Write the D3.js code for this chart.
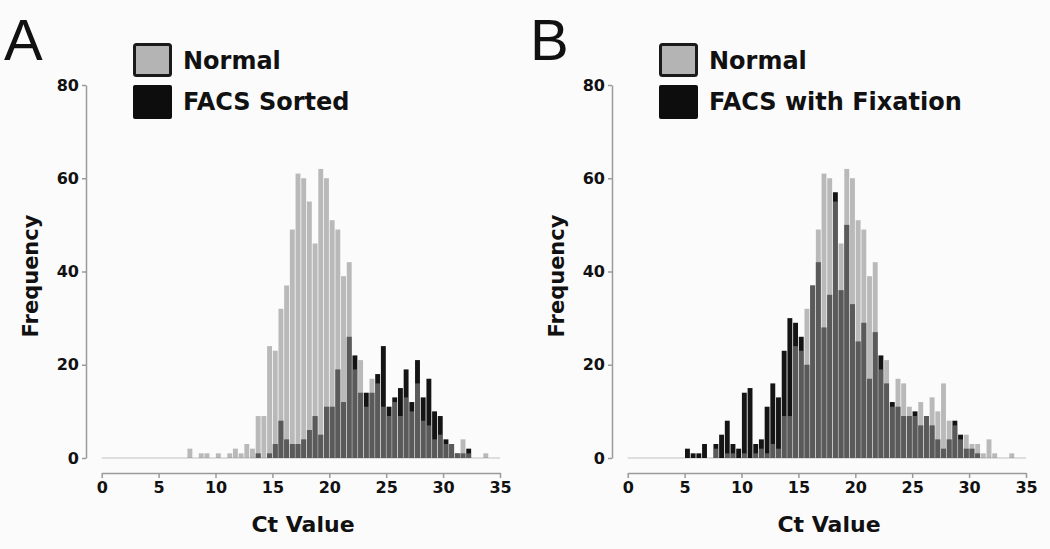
<!DOCTYPE html>
<html>
  <head>
    <meta charset="utf-8">
    <title>Ct histograms</title>
    <style media="screen">
    body{margin: 0; background: #fbfbfb}
    svg text {font-family: "DejaVu Sans", "Liberation Sans", Arial, sans-serif; font-weight: bold; fill: #111}
    </style>
  </head>
  <body>
    <script src="https://d3js.org/d3.v7.min.js"></script>
    <script type="text/javascript">
      // bins of 0.5 Ct, first bin starts at Ct 5.0
      var binStart = 5, binWidth = 0.5

      var normal = [
        0, 0, 0, 0, 0, 2, 0, 1, 1, 0,
        1, 0, 1, 2, 1, 3, 2, 9, 9, 24,
        23, 32, 37, 49, 61, 60, 55, 46, 62, 60,
        51, 49, 39, 42, 19, 21, 11, 17, 16, 11,
        9, 12, 9, 13, 10, 16, 8, 7, 4, 5,
        3, 3, 1, 4, 1, 0, 0, 1, 0, 0
      ]

      var facsSorted = [
        0, 0, 0, 0, 0, 0, 0, 0, 0, 0,
        0, 0, 0, 0, 0, 0, 0, 1, 0, 1,
        3, 8, 4, 3, 3, 4, 6, 9, 5, 11,
        11, 19, 12, 26, 22, 14, 14, 14, 18, 24,
        11, 13, 15, 19, 12, 21, 13, 17, 10, 9,
        4, 3, 1, 1, 2, 0, 0, 0, 0, 0
      ]

      var facsFixation = [
        2, 1, 1, 3, 0, 3, 5, 8, 3, 2,
        14, 15, 3, 4, 11, 16, 13, 23, 30, 29,
        26, 20, 37, 42, 28, 35, 57, 36, 50, 33,
        25, 29, 17, 27, 22, 16, 12, 11, 9, 9,
        10, 7, 9, 7, 4, 2, 4, 8, 5, 2,
        2, 1, 0, 0, 0, 0, 0, 0, 0, 0
      ]

      var xTicks = [0, 5, 10, 15, 20, 25, 30, 35]
      var yTicks = [0, 20, 40, 60, 80]

      var panels = [
        {letter: 'A', facs: facsSorted, legend: ['Normal', 'FACS Sorted'], dx: 0},
        {letter: 'B', facs: facsFixation, legend: ['Normal', 'FACS with Fixation'], dx: 526}
      ]

      var svg = d3.select('body').append('svg')
        .attr('width', 1050)
        .attr('height', 549)

      panels.forEach(function(p){
        var g = svg.append('g').attr('transform', 'translate(' + p.dx + ',0)')

        var x = d3.scaleLinear().domain([0, 35]).range([101.7, 500])
        var y = d3.scaleLinear().domain([0, 80]).range([458, 85])
        var bw = x(binWidth) - x(0) - 0.8

        // faint zero line under the bars
        g.append('line')
          .attr('x1', x(0)).attr('x2', x(35))
          .attr('y1', y(0)).attr('y2', y(0))
          .attr('stroke', '#d4d4d4').attr('stroke-width', 1.5)

        function bars(vals, cls){
          return g.selectAll('rect.' + cls)
            .data(vals.map(function(v, i){ return {ct: binStart + i * binWidth, v: v} })
              .filter(function(d){ return d.v > 0 }))
            .enter().append('rect')
            .attr('class', cls)
            .attr('x', function(d){ return x(d.ct) + 0.4 })
            .attr('width', bw)
            .attr('y', function(d){ return y(d.v) })
            .attr('height', function(d){ return y(0) - y(d.v) })
        }

        bars(p.facs, 'facs').attr('fill', '#141414')
        bars(normal, 'normal').attr('fill', '#8c8c8c').attr('fill-opacity', 0.59)

        // axes
        var yAxis = g.append('g')
          .attr('transform', 'translate(86,0)')
          .call(d3.axisLeft(y).tickValues(yTicks).tickSize(4).tickSizeOuter(0).tickPadding(3))
        var xAxis = g.append('g')
          .attr('transform', 'translate(0,473)')
          .call(d3.axisBottom(x).tickValues(xTicks).tickSize(5).tickSizeOuter(0).tickPadding(4))

        ;[yAxis, xAxis].forEach(function(a){
          a.select('.domain').attr('stroke', '#9a9a9a').attr('stroke-width', 1.5)
          a.selectAll('.tick line').attr('stroke', '#9a9a9a').attr('stroke-width', 1.5)
          a.selectAll('.tick text')
            .style('font-size', '16px')
            .attr('fill', '#111')
        })

        g.append('text')
          .attr('x', 303).attr('y', 532)
          .attr('text-anchor', 'middle')
          .style('font-size', '22px')
          .text('Ct Value')

        g.append('text')
          .attr('transform', 'translate(38,276) rotate(-90)')
          .attr('text-anchor', 'middle')
          .style('font-size', '21px')
          .text('Frequency')

        g.append('text')
          .attr('x', 4).attr('y', 60)
          .style('font-family', '"Liberation Sans", Arial, sans-serif')
          .style('font-size', '58px').style('font-weight', 'normal')
          .text(p.letter)

        // legend
        var lg = g.append('g')
        lg.append('rect')
          .attr('x', 134.5).attr('y', 44.5).attr('width', 36).attr('height', 31).attr('rx', 2)
          .attr('fill', '#b4b4b4').attr('stroke', '#1a1a1a').attr('stroke-width', 3)
        lg.append('rect')
          .attr('x', 133).attr('y', 85).attr('width', 39).attr('height', 34).attr('rx', 2)
          .attr('fill', '#0d0d0d')
        lg.selectAll('text.leg')
          .data(p.legend)
          .enter().append('text')
          .attr('class', 'leg')
          .attr('x', 183)
          .attr('y', function(d, i){ return i ? 110 : 69 })
          .style('font-size', '24px')
          .text(function(d){ return d })
      })
    </script>
  </body>
</html>
